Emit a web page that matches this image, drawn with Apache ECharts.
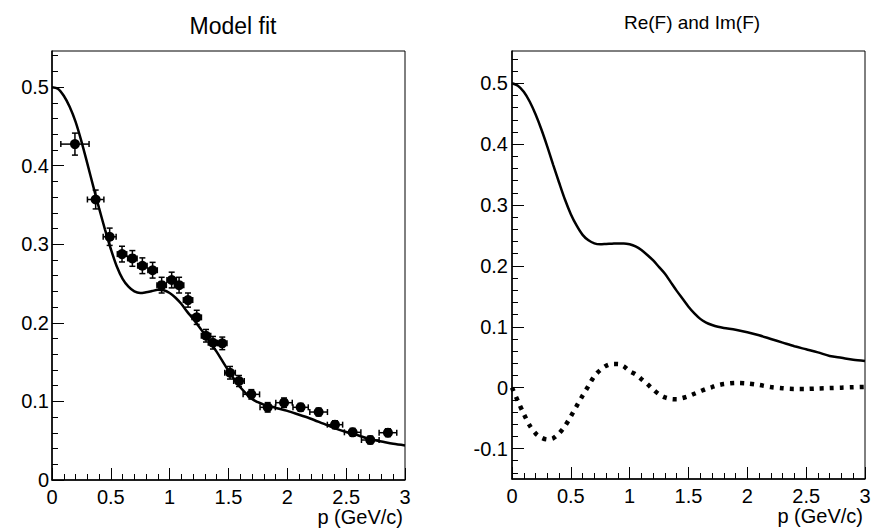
<!DOCTYPE html>
<html>
<head>
<meta charset="utf-8">
<script src="https://cdn.jsdelivr.net/npm/echarts@6/dist/echarts.min.js"></script>
<style>
html,body{margin:0;padding:0;background:#fff;}
#chart{width:877px;height:532px;}
</style>
</head>
<body>
<div id="chart"></div>
<script>
// ---- Data points (left panel) ----
var pX    = [0.195,0.371,0.490,0.595,0.683,0.768,0.855,0.932,1.017,1.080,1.156,1.230,1.309,1.368,1.447,1.513,1.589,1.694,1.833,1.972,2.113,2.266,2.405,2.555,2.705,2.855];
var pY    = [0.4275,0.357,0.3096,0.2875,0.282,0.2727,0.267,0.248,0.2545,0.248,0.229,0.2070,0.1836,0.1747,0.1739,0.1365,0.126,0.109,0.0925,0.0984,0.0925,0.0865,0.0704,0.0607,0.0509,0.0602];
var pXErr = [0.12,0.07,0.055,0.04,0.04,0.04,0.04,0.04,0.04,0.04,0.04,0.04,0.04,0.04,0.04,0.045,0.045,0.07,0.065,0.07,0.065,0.075,0.065,0.07,0.075,0.075];
var pYErr = [0.014,0.012,0.011,0.010,0.010,0.010,0.010,0.010,0.010,0.010,0.009,0.009,0.008,0.008,0.008,0.008,0.007,0.006,0.006,0.006,0.005,0.005,0.005,0.005,0.005,0.005];

// ---- Curves ----
var curveX = [0,0.05,0.1,0.15,0.2,0.25,0.3,0.35,0.4,0.45,0.5,0.55,0.6,0.65,0.7,0.75,0.8,0.85,0.9,0.95,1.0,1.05,1.1,1.15,1.2,1.25,1.3,1.35,1.4,1.45,1.5,1.55,1.6,1.65,1.7,1.75,1.8,1.9,2.0,2.1,2.2,2.3,2.4,2.5,2.6,2.7,2.8,2.9,3.0];
var fitY = [0.500,0.498,0.489,0.475,0.456,0.431,0.403,0.374,0.346,0.319,0.294,0.272,0.256,0.246,0.240,0.238,0.239,0.2405,0.242,0.2415,0.238,0.232,0.224,0.214,0.205,0.195,0.185,0.174,0.163,0.151,0.139,0.128,0.118,0.110,0.103,0.099,0.096,0.092,0.088,0.083,0.078,0.072,0.066,0.061,0.057,0.052,0.049,0.046,0.044];
var reY  = [0.500,0.496,0.486,0.470,0.449,0.424,0.396,0.366,0.337,0.309,0.285,0.266,0.251,0.242,0.237,0.2355,0.236,0.2365,0.237,0.237,0.2355,0.232,0.226,0.218,0.209,0.198,0.187,0.173,0.159,0.146,0.133,0.122,0.113,0.107,0.103,0.100,0.098,0.095,0.091,0.086,0.080,0.074,0.068,0.063,0.058,0.052,0.049,0.046,0.044];
var imY  = [0,-0.022,-0.043,-0.062,-0.075,-0.082,-0.085,-0.083,-0.075,-0.063,-0.047,-0.030,-0.013,0.003,0.019,0.029,0.036,0.039,0.039,0.035,0.027,0.022,0.014,0.006,-0.003,-0.011,-0.016,-0.0185,-0.019,-0.017,-0.014,-0.010,-0.006,-0.002,0.001,0.004,0.006,0.0078,0.007,0.0045,0.001,-0.001,-0.002,-0.002,-0.0013,-0.0006,0,0.0007,0.0012];

// ---- Tick labels ----
var xTicks = [0,0.5,1,1.5,2,2.5,3];
var yTicksLeft = [0,0.1,0.2,0.3,0.4,0.5];
var yTicksRight = [-0.1,0,0.1,0.2,0.3,0.4,0.5];

var titles = ['Model fit','Re(F) and Im(F)'];
var xTitle = 'p (GeV/c)';

function minorTicks(lo, hi, step, majors){
  var out=[];
  var n0=Math.ceil(lo/step-1e-9), n1=Math.floor(hi/step+1e-9);
  for(var k=n0;k<=n1;k++){
    var v=Math.round(k*step*1000)/1000;
    var isMaj=majors.some(function(m){return Math.abs(m-v)<1e-9;});
    if(!isMaj) out.push(v);
  }
  return out;
}

var FONT='"Liberation Sans", Arial, Helvetica, sans-serif';
var yMinLeft=0, yMaxLeft=0.546, yMinRight=-0.15, yMaxRight=0.553;

function xAxisDef(gi){
  return {
    type:'value', gridIndex:gi, min:0, max:3, interval:0.5,
    axisLine:{show:true,onZero:false,lineStyle:{color:'#000',width:1.5}},
    axisTick:{show:true,inside:true,length:12,lineStyle:{color:'#000',width:1}},
    minorTick:{show:true,splitNumber:5,length:6,lineStyle:{color:'#000',width:1}},
    splitLine:{show:false}, minorSplitLine:{show:false},
    axisLabel:{color:'#000',fontFamily:FONT,fontSize:20,margin:7},
    name:xTitle, nameLocation:'end', nameGap:-2,
    nameTextStyle:{color:'#000',fontFamily:FONT,fontSize:20,align:'right',verticalAlign:'top',padding:[27,0,0,0]}
  };
}
function yAxisMajor(gi,mn,mx,ticks,margin){
  return {
    type:'value', gridIndex:gi, min:mn, max:mx, position:'left',
    axisLine:{show:true,onZero:false,lineStyle:{color:'#000',width:1.5}},
    axisTick:{show:true,inside:true,length:12,customValues:ticks,lineStyle:{color:'#000',width:1}},
    axisLabel:{color:'#000',fontFamily:FONT,fontSize:20,margin:margin,customValues:ticks},
    splitLine:{show:false}
  };
}
function yAxisMinor(gi,mn,mx,ticks){
  return {
    type:'value', gridIndex:gi, min:mn, max:mx, position:'left',
    axisLine:{show:false},
    axisTick:{show:true,inside:true,length:6,customValues:minorTicks(mn,mx,0.02,ticks),lineStyle:{color:'#000',width:1}},
    axisLabel:{show:false},
    splitLine:{show:false}
  };
}

function errRender(params, api){
  var x=api.value(0), y=api.value(1), ex=api.value(2), ey=api.value(3);
  var c=api.coord([x,y]);
  var l=api.coord([x-ex,y]), r=api.coord([x+ex,y]);
  var t=api.coord([x,y+ey]), b=api.coord([x,y-ey]);
  var cap=3;
  var st={stroke:'#000',lineWidth:1.5};
  return {type:'group',children:[
    {type:'line',shape:{x1:l[0],y1:c[1],x2:r[0],y2:c[1]},style:st},
    {type:'line',shape:{x1:l[0],y1:c[1]-cap,x2:l[0],y2:c[1]+cap},style:st},
    {type:'line',shape:{x1:r[0],y1:c[1]-cap,x2:r[0],y2:c[1]+cap},style:st},
    {type:'line',shape:{x1:c[0],y1:t[1],x2:c[0],y2:b[1]},style:st},
    {type:'line',shape:{x1:c[0]-cap,y1:t[1],x2:c[0]+cap,y2:t[1]},style:st},
    {type:'line',shape:{x1:c[0]-cap,y1:b[1],x2:c[0]+cap,y2:b[1]},style:st},
    {type:'circle',shape:{cx:c[0],cy:c[1],r:5},style:{fill:'#000'}}
  ]};
}

var chart = echarts.init(document.getElementById('chart'), null, {renderer:'svg'});
chart.setOption({
  animation:false,
  backgroundColor:'#fff',
  title:[
    {text:titles[0],left:228,top:9,textAlign:'center',textStyle:{fontFamily:FONT,fontSize:23,fontWeight:'normal',color:'#000'}},
    {text:titles[1],left:687,top:8,textAlign:'center',textStyle:{fontFamily:FONT,fontSize:19,fontWeight:'normal',color:'#000'}}
  ],
  grid:[
    {left:52,top:51,width:353,height:429,show:true,borderColor:'#000',borderWidth:1,backgroundColor:'transparent'},
    {left:512,top:51,width:353,height:428,show:true,borderColor:'#000',borderWidth:1,backgroundColor:'transparent'}
  ],
  xAxis:[xAxisDef(0), xAxisDef(1)],
  yAxis:[
    yAxisMajor(0,yMinLeft,yMaxLeft,yTicksLeft,3),
    yAxisMinor(0,yMinLeft,yMaxLeft,yTicksLeft),
    yAxisMajor(1,yMinRight,yMaxRight,yTicksRight,4),
    yAxisMinor(1,yMinRight,yMaxRight,yTicksRight)
  ],
  series:[
    {type:'line',xAxisIndex:0,yAxisIndex:0,data:curveX.map(function(x,i){return [x,fitY[i]];}),
     showSymbol:false,smooth:0.3,lineStyle:{color:'#000',width:2.5},z:2},
    {type:'custom',xAxisIndex:0,yAxisIndex:0,renderItem:errRender,
     data:pX.map(function(x,i){return [x,pY[i],pXErr[i],pYErr[i]];}),z:3},
    {type:'line',xAxisIndex:1,yAxisIndex:2,data:curveX.map(function(x,i){return [x,reY[i]];}),
     showSymbol:false,smooth:0.3,lineStyle:{color:'#000',width:2.5}},
    {type:'line',xAxisIndex:1,yAxisIndex:2,data:curveX.map(function(x,i){return [x,imY[i]];}),
     showSymbol:false,smooth:0.3,lineStyle:{color:'#000',width:4.5,type:[4,6],cap:'butt'}}
  ]
});
</script>
</body>
</html>
